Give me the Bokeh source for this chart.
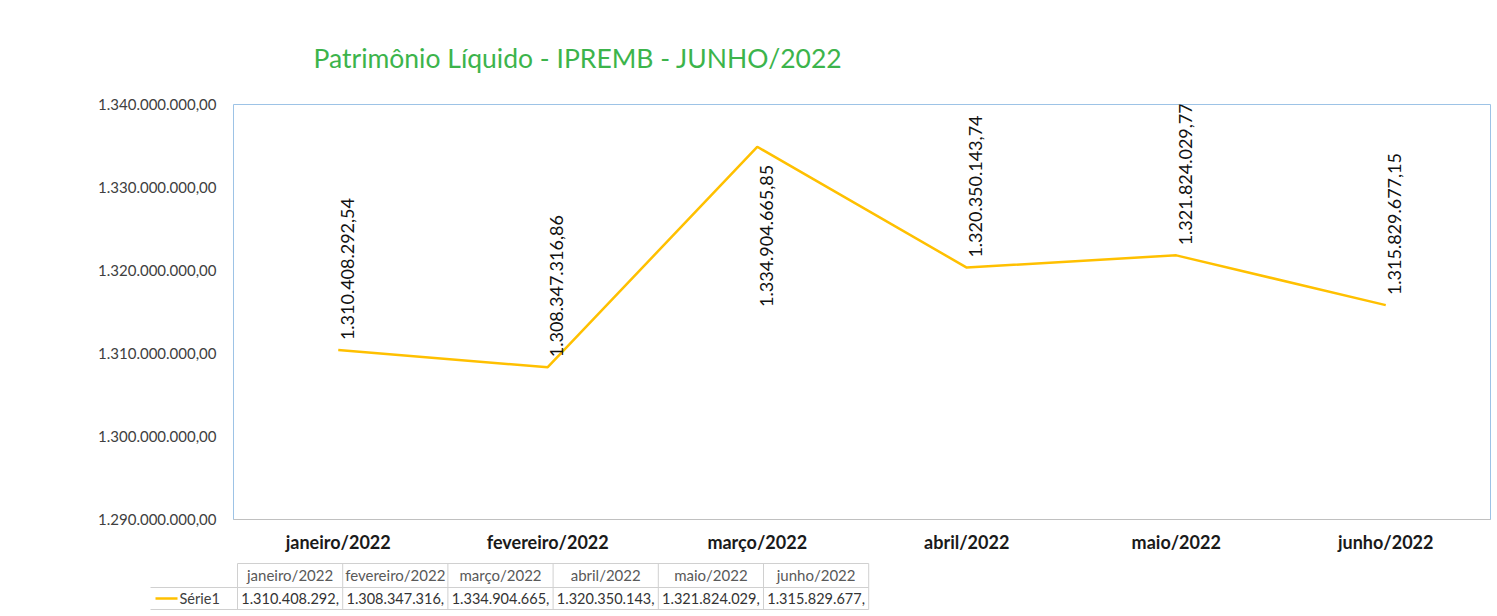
import math
from bokeh.plotting import figure
from bokeh.models import ColumnDataSource, LabelSet, FixedTicker, Range1d
from bokeh.layouts import column
from bokeh.embed import file_html
from bokeh.resources import INLINE
from bokeh.core.properties import value

# ---------------- data ----------------
categories = ["janeiro/2022", "fevereiro/2022", "março/2022",
              "abril/2022", "maio/2022", "junho/2022"]
values = [1310408292.54, 1308347316.86, 1334904665.85,
          1320350143.74, 1321824029.77, 1315829677.15]
series_name = "Série1"
title_text = "Patrimônio Líquido - IPREMB - JUNHO/2022"
y_ticks = [1290000000, 1300000000, 1310000000, 1320000000, 1330000000, 1340000000]
y_tick_labels = ["1.290.000.000,00", "1.300.000.000,00", "1.310.000.000,00",
                 "1.320.000.000,00", "1.330.000.000,00", "1.340.000.000,00"]
y_min, y_max = 1290000000, 1340000000


def br(v, decimals=2):
    s = f"{v:,.{decimals}f}"
    return s.replace(",", "_").replace(".", ",").replace("_", ".")


full_labels = [br(v) for v in values]
table_labels = [f"{int(v):,}".replace(",", ".") + "," for v in values]

FONT = "Lato"
W = 1495
BL, BR = 233, 5            # shared left / right borders of header and chart
FX0, FX1 = BL, W - BR      # frame extent in page pixels
LINE_COLOR = "#FFC000"

# ---------------- header (title) ----------------
HH = 80
h = figure(width=W, height=HH, x_range=Range1d(FX0, FX1), y_range=Range1d(0, HH),
           output_backend="svg", toolbar_location=None,
           min_border_left=BL, min_border_right=BR, min_border_top=0, min_border_bottom=0,
           x_axis_type=None, y_axis_type=None)
h.grid.visible = False
h.outline_line_color = None
h.text(x=[313], y=[HH - 57], text=[title_text], text_align="left", text_baseline="middle",
       text_font=value(FONT), text_font_size="26.5px", text_color="#3cb44b")

# ---------------- main chart ----------------
p = figure(x_range=categories, y_range=Range1d(y_min, y_max),
           width=W, height=479, output_backend="svg", toolbar_location=None,
           min_border_left=BL, min_border_right=BR,
           min_border_top=24, min_border_bottom=40)
p.outline_line_color = "#9dc3e6"
p.outline_line_width = 1
p.grid.grid_line_color = None

src = ColumnDataSource(dict(cat=categories, val=values, lab=full_labels))
p.line(x="cat", y="val", source=src, line_color=LINE_COLOR, line_width=2.5)

# data labels: above the point, except when too close to the top of the axis
above_idx = [i for i, v in enumerate(values) if v <= 1330000000]
below_idx = [i for i, v in enumerate(values) if v > 1330000000]


def subset(idx):
    return ColumnDataSource(dict(cat=[categories[i] for i in idx],
                                 val=[values[i] for i in idx],
                                 lab=[full_labels[i] for i in idx]))


common = dict(x="cat", y="val", text="lab", angle=math.pi / 2,
              text_font=value(FONT), text_font_size="18px", text_color="#111111",
              text_baseline="middle", x_offset=9)
p.add_layout(LabelSet(source=subset(above_idx), text_align="left", y_offset=10, **common))
p.add_layout(LabelSet(source=subset(below_idx), text_align="right", y_offset=-18, **common))

xa = p.xaxis[0]
xa.axis_line_color = "#c0c0c0"
xa.major_tick_line_color = None
xa.minor_tick_line_color = None
xa.major_label_text_font = FONT
xa.major_label_text_font_size = "18px"
xa.major_label_text_font_style = "bold"
xa.major_label_text_color = "#1a1a1a"
xa.major_label_standoff = 5

ya = p.yaxis[0]
ya.ticker = FixedTicker(ticks=y_ticks)
ya.major_label_overrides = dict(zip(y_ticks, y_tick_labels))
ya.axis_line_color = None
ya.major_tick_line_color = None
ya.minor_tick_line_color = None
ya.major_label_text_font = FONT
ya.major_label_text_font_size = "15px"
ya.major_label_text_color = "#404040"
ya.major_label_standoff = 11

# ---------------- data table below (separate root, page-pixel coordinates) ----------------
TH = 53
t = figure(width=W, height=TH, x_range=Range1d(0, W), y_range=Range1d(0, TH),
           output_backend="svg", toolbar_location=None, min_border=0,
           x_axis_type=None, y_axis_type=None)
t.grid.visible = False
t.outline_line_color = None

x0, cw = 237, 105.2
n = len(categories)
centers = [x0 + cw * (i + 0.5) for i in range(n)]
grid_color = "#d0d0d0"
x_end = x0 + cw * n
y_top, y_mid, y_bot = TH - 4, TH - 28, 3
t.segment(x0=[x0, 150, 150], y0=[y_top, y_mid, y_bot], x1=[x_end] * 3,
          y1=[y_top, y_mid, y_bot], line_color=grid_color, line_width=1)
vx = [x0 + cw * i for i in range(n + 1)]
t.segment(x0=vx, y0=[y_bot] * len(vx), x1=vx, y1=[y_top] * len(vx),
          line_color=grid_color, line_width=1)

tsrc = ColumnDataSource(dict(x=centers, cat=categories, lab=table_labels,
                             yh=[TH - 15] * n, yv=[TH - 39] * n))
t.text(x="x", y="yh", text="cat", source=tsrc, text_align="center",
       text_baseline="middle", text_font=value(FONT), text_font_size="15px",
       text_color="#595959")
t.text(x="x", y="yv", text="lab", source=tsrc, text_align="center",
       text_baseline="middle", text_font=value(FONT), text_font_size="14.5px",
       text_color="#333333")

# legend key for the series
t.segment(x0=[155], y0=[TH - 39], x1=[177], y1=[TH - 39], line_color=LINE_COLOR, line_width=2.5)
t.text(x=[179], y=[TH - 39], text=[series_name], text_align="left", text_baseline="middle",
       text_font=value(FONT), text_font_size="14.5px", text_color="#404040")

top = column(h, p, spacing=0)
open("out.html", "w").write(file_html([top, t], INLINE))
